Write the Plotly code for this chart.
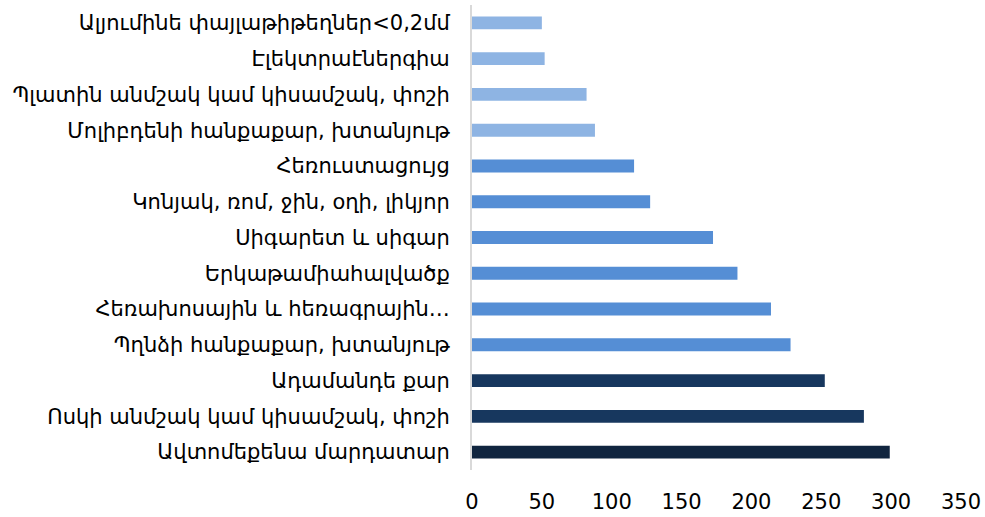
import plotly.graph_objects as go

categories = [
    "Ալյումինե փայլաթիթեղներ<0,2մմ",
    "Էլեկտրաէներգիա",
    "Պլատին անմշակ կամ կիսամշակ, փոշի",
    "Մոլիբդենի հանքաքար, խտանյութ",
    "Հեռուստացույց",
    "Կոնյակ, ռոմ, ջին, օղի, լիկյոր",
    "Սիգարետ և սիգար",
    "Երկաթամիահալվածք",
    "Հեռախոսային և հեռագրային…",
    "Պղնձի հանքաքար, խտանյութ",
    "Ադամանդե քար",
    "Ոսկի անմշակ կամ կիսամշակ, փոշի",
    "Ավտոմեքենա մարդատար",
]
values = [50, 52, 82, 88, 116, 127.5, 172.5, 190, 214, 228, 252.5, 280.5, 299]
bar_colors = ["#8EB4E3"] * 4 + ["#558ED5"] * 6 + ["#17375E"] * 2 + ["#10253F"]
x_ticks = [0, 50, 100, 150, 200, 250, 300, 350]

fig = go.Figure(go.Bar(
    y=categories, x=values, orientation="h",
    marker=dict(color=bar_colors, line=dict(width=0)),
    width=0.36,
))

fig.update_layout(
    width=985, height=517,
    margin=dict(l=472, r=24, t=5, b=47),
    paper_bgcolor="white", plot_bgcolor="white",
    showlegend=False,
    font=dict(family="DejaVu Sans", size=21, color="#000000"),
)
fig.update_xaxes(
    range=[0, 350], tickvals=x_ticks, showgrid=False, zeroline=False,
    showline=False, ticks="", tickfont=dict(size=21), ticklabelstandoff=17,
    automargin=False,
)
fig.update_yaxes(
    autorange="reversed", showgrid=False, zeroline=False,
    showline=True, linecolor="#D9D9D9", linewidth=2, ticks="",
    ticklabelstandoff=16, tickfont=dict(size=21), automargin=False,
)

fig.write_html("out.html", config={"displayModeBar": False},
               post_script="document.body.style.margin='0';")
